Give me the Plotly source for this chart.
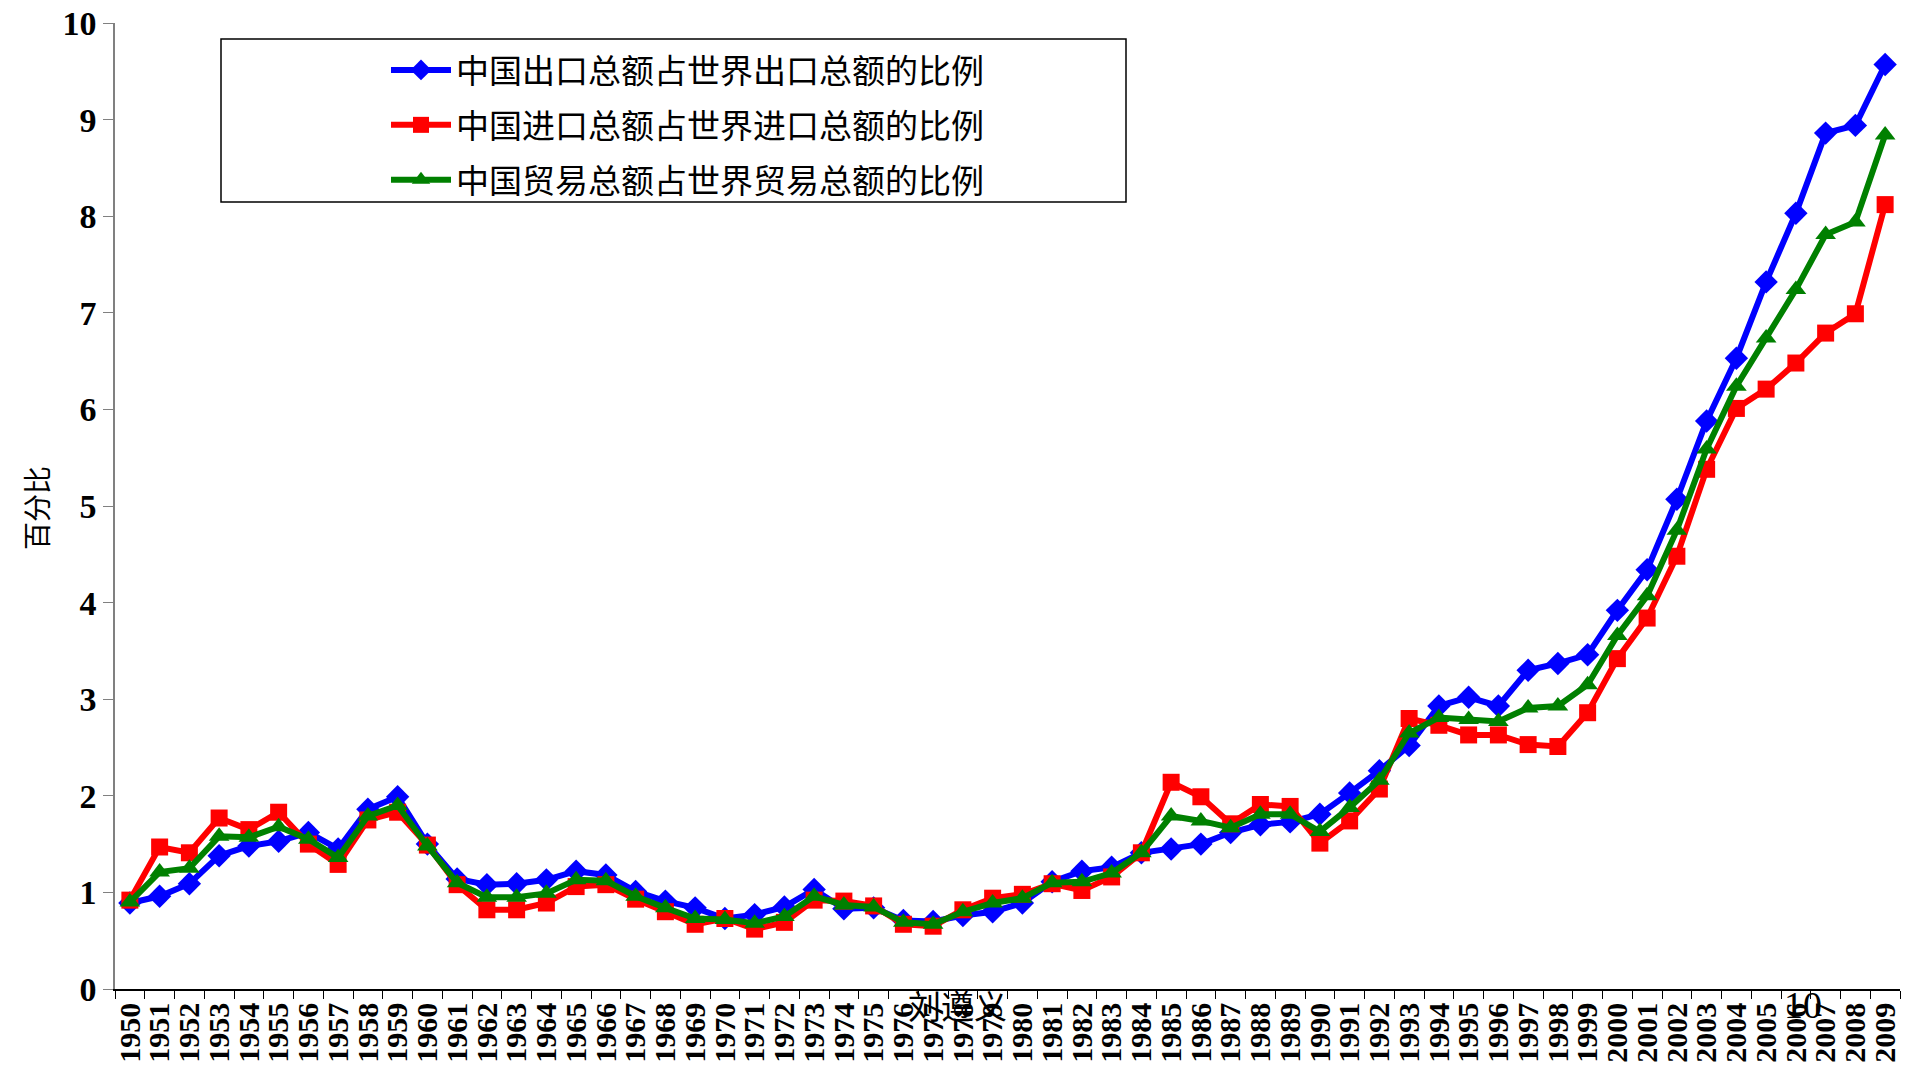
import plotly.graph_objects as go

years = [str(y) for y in range(1950, 2010)]

export_share = [0.89, 0.96, 1.09, 1.38, 1.48, 1.53, 1.62, 1.45, 1.86, 1.99,
                1.50, 1.14, 1.08, 1.09, 1.13, 1.22, 1.18, 1.01, 0.91, 0.84,
                0.73, 0.77, 0.85, 1.03, 0.83, 0.84, 0.71, 0.70, 0.76, 0.80,
                0.89, 1.11, 1.22, 1.26, 1.41, 1.45, 1.50, 1.62, 1.70, 1.73,
                1.81, 2.03, 2.26, 2.52, 2.93, 3.02, 2.93, 3.30, 3.37, 3.46,
                3.92, 4.34, 5.07, 5.88, 6.53, 7.32, 8.03, 8.86, 8.94, 9.57]

import_share = [0.92, 1.47, 1.41, 1.77, 1.65, 1.83, 1.50, 1.29, 1.75, 1.83,
                1.49, 1.08, 0.82, 0.82, 0.89, 1.06, 1.08, 0.93, 0.80, 0.67,
                0.73, 0.62, 0.69, 0.92, 0.91, 0.86, 0.67, 0.65, 0.82, 0.94,
                0.98, 1.09, 1.02, 1.16, 1.41, 2.14, 1.99, 1.71, 1.91, 1.89,
                1.51, 1.74, 2.07, 2.80, 2.73, 2.63, 2.63, 2.53, 2.51, 2.86,
                3.42, 3.84, 4.48, 5.38, 6.01, 6.21, 6.48, 6.79, 6.99, 8.12]

trade_share = [0.90, 1.21, 1.25, 1.58, 1.57, 1.68, 1.55, 1.36, 1.79, 1.90,
               1.48, 1.10, 0.95, 0.95, 0.99, 1.13, 1.12, 0.96, 0.84, 0.73,
               0.72, 0.68, 0.75, 0.96, 0.87, 0.85, 0.69, 0.67, 0.80, 0.89,
               0.94, 1.10, 1.11, 1.20, 1.41, 1.79, 1.74, 1.67, 1.81, 1.81,
               1.63, 1.88, 2.16, 2.65, 2.81, 2.79, 2.77, 2.91, 2.93, 3.15,
               3.66, 4.07, 4.75, 5.59, 6.24, 6.74, 7.24, 7.81, 7.94, 8.84]

names = ["中国出口总额占世界出口总额的比例",
         "中国进口总额占世界进口总额的比例",
         "中国贸易总额占世界贸易总额的比例"]
y_ticks = [0, 1, 2, 3, 4, 5, 6, 7, 8, 9, 10]

CJK = "Noto Sans CJK SC"
SERIF = "Liberation Serif, Times New Roman, serif"

fig = go.Figure()
series = [
    (export_share, "#0000FF", "diamond", 18),
    (import_share, "#FF0000", "square", 17),
    (trade_share, "#008000", "triangle-up", 18),
]
for i, (vals, color, sym, msize) in enumerate(series):
    fig.add_trace(go.Scatter(
        x=years, y=vals, name=names[i], mode="lines+markers",
        legendgroup=f"g{i}",
        line=dict(color=color, width=6),
        marker=dict(symbol=sym, size=msize, color=color),
    ))

# body margin is removed in the page, so figure px == page px
W, H = 1905, 1081
PL, PR, PT, PB = 115, 1900, 23, 989
L, T, R, B = PL, PT, W - PR, H - PB
pw, ph = PR - PL, PB - PT

def px(x):
    return (x - PL) / pw

def py(y):
    return (PB - y) / ph

fig.update_layout(
    width=W, height=H,
    margin=dict(l=L, r=R, t=T, b=B, autoexpand=False),
    paper_bgcolor="white", plot_bgcolor="white",
    showlegend=True,
    legend=dict(
        x=px(386), y=py(42), xanchor="left", yanchor="top",
        bgcolor="rgba(0,0,0,0)", borderwidth=0,
        font=dict(family=CJK, size=33, color="black"),
        tracegroupgap=9, itemwidth=60,
    ),
    shapes=[dict(type="rect", xref="paper", yref="paper",
                 x0=px(221), x1=px(1126), y0=py(202), y1=py(39),
                 line=dict(color="black", width=1.5), fillcolor="rgba(0,0,0,0)")],
    annotations=[
        dict(text="百分比", xref="paper", yref="paper", x=px(36), y=py(508),
             xanchor="center", yanchor="middle", showarrow=False, textangle=-90,
             font=dict(family=CJK, size=28, color="black")),
        dict(text="刘遵义", xref="paper", yref="paper", x=px(957), y=py(1005),
             xanchor="center", yanchor="middle", showarrow=False,
             font=dict(family=CJK, size=33, color="black")),
        dict(text="10", xref="paper", yref="paper", x=px(1803), y=py(1005),
             xanchor="center", yanchor="middle", showarrow=False,
             font=dict(family=SERIF, size=38, color="black")),
    ],
)

fig.update_xaxes(
    type="category", range=[-0.5, len(years) - 0.5], automargin=False,
    tickmode="array", tickvals=years, ticktext=years,
    tickangle=-90, ticks="outside", tickson="boundaries", ticklen=8,
    tickcolor="black", showline=True, linecolor="black", linewidth=1.5,
    showgrid=False, zeroline=False, ticklabeloverflow="allow",
    tickfont=dict(family=SERIF, size=30, color="black", weight="bold"),
)
fig.update_yaxes(
    range=[0, 10], tickmode="array", tickvals=y_ticks, automargin=False,
    ticktext=[str(v) for v in y_ticks],
    ticks="outside", ticklen=10, tickcolor="#808080",
    showline=True, linecolor="#808080", linewidth=1.5,
    showgrid=False, zeroline=False, ticklabeloverflow="allow",
    tickfont=dict(family=SERIF, size=34, color="black", weight="bold"),
)

fig.write_html("out.html", config={"displayModeBar": False},
               post_script="document.body.style.margin='0';")
